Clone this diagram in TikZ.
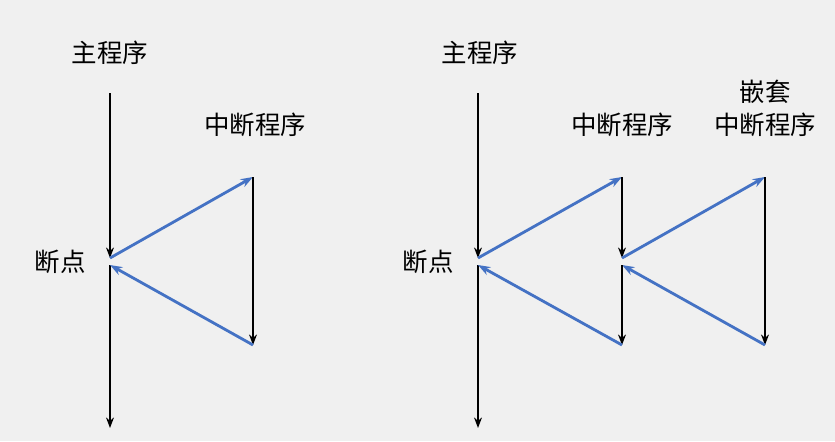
\documentclass[tikz,border=0pt]{standalone}
\usepackage{fontspec}
\setmainfont{Noto Sans CJK SC}
\usetikzlibrary{arrows.meta}
\definecolor{bg}{HTML}{F0F0F0}
\definecolor{bl}{HTML}{4472C4}
\begin{document}
\begin{tikzpicture}[x=0.02cm,y=-0.02cm,
  blk/.style={draw=black,line width=1.2pt,-{Stealth[length=6pt,width=4.5pt]}},
  blu/.style={draw=bl,line width=1.6pt,-{Stealth[length=7pt,width=5pt]}},
  lbl/.style={font=\fontsize{14.5}{17}\selectfont,inner sep=0pt}]
\fill[bg] (0,0) rectangle (835,441);
\useasboundingbox (0,0) rectangle (835,441);
% left
\node[lbl] (m1) at (110,53) {主程序};
\node[lbl] (i1) at (255,125) {中断程序};
\node[lbl] (b1) at (60,262) {断点};
\coordinate (a1) at (110,93); \coordinate (a2) at (110,258);
\coordinate (a3) at (110,265); \coordinate (a4) at (110,428);
\coordinate (c1) at (253,177); \coordinate (c2) at (253,345);
\draw[blk] (a1) -- (a2);
\draw[blk] (a3) -- (a4);
\draw[blu] (a2) -- (c1);
\draw[blk] (c1) -- (c2);
\draw[blu] (c2) -- (a3);
% right
\node[lbl] (m2) at (480,53) {主程序};
\node[lbl] (i2) at (622,125) {中断程序};
\node[lbl] (n1) at (765,92) {嵌套};
\node[lbl] (n2) at (765,125) {中断程序};
\node[lbl] (b2) at (428,262) {断点};
\coordinate (r1) at (478,93); \coordinate (r2) at (478,258);
\coordinate (r3) at (478,265); \coordinate (r4) at (478,428);
\coordinate (s1) at (622,177); \coordinate (s2) at (622,258);
\coordinate (s3) at (622,265); \coordinate (s4) at (622,345);
\coordinate (t1) at (765,177); \coordinate (t2) at (765,345);
\draw[blk] (r1) -- (r2);
\draw[blk] (r3) -- (r4);
\draw[blu] (r2) -- (s1);
\draw[blk] (s1) -- (s2);
\draw[blu] (s2) -- (t1);
\draw[blk] (t1) -- (t2);
\draw[blu] (t2) -- (s3);
\draw[blk] (s3) -- (s4);
\draw[blu] (s4) -- (r3);
\end{tikzpicture}
\end{document}
